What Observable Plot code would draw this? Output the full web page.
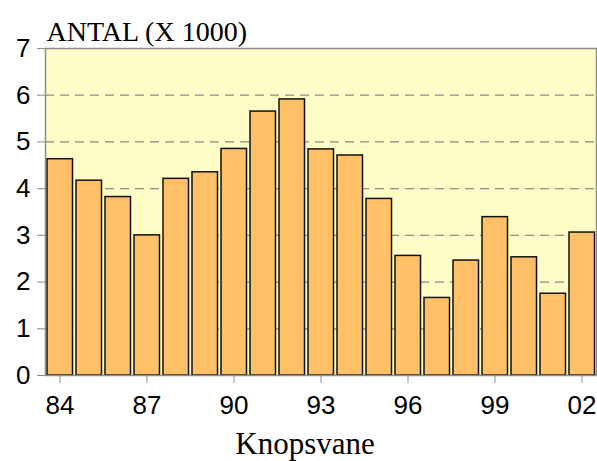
<!DOCTYPE html>
<html>
<head>
<meta charset="utf-8">
<script src="https://cdn.jsdelivr.net/npm/d3@7"></script>
<script src="https://cdn.jsdelivr.net/npm/@observablehq/plot@0.6"></script>
<style>
  html, body { margin: 0; padding: 0; background: #fff; }
</style>
</head>
<body>
<div id="chart"></div>
<script>
const years = ["84","85","86","87","88","89","90","91","92","93","94","95","96","97","98","99","00","01","02"];
const counts = [4.63, 4.17, 3.82, 3.0, 4.21, 4.35, 4.85, 5.65, 5.91, 4.84, 4.71, 3.78, 2.56, 1.66, 2.46, 3.39, 2.53, 1.75, 3.06];
const xTickLabels = ["84","87","90","93","96","99","02"];
const yTicks = [0,1,2,3,4,5,6,7];
const gridValues = [1,2,3,4,5,6];
const title = "ANTAL (X 1000)";
const xLabel = "Knopsvane";

const data = years.map((y, i) => ({year: y, value: counts[i]}));

const chart = Plot.plot({
  width: 597,
  height: 461,
  marginLeft: 45,
  marginRight: 1,
  marginTop: 48,
  marginBottom: 86,
  style: {fontFamily: "'Liberation Sans', Arial, sans-serif", fontSize: "26px", background: "#fff", color: "black"},
  x: {type: "band", domain: years, padding: 0, label: null},
  y: {domain: [0, 7], label: null},
  marks: [
    Plot.frame({fill: "#FFFDC6", stroke: null}),
    Plot.ruleY(gridValues, {stroke: "#8c8c8c", strokeWidth: 1.2, strokeDasharray: "9,6"}),
    Plot.barY(data, {x: "year", y: "value", fill: "#FFC068", stroke: "#111", strokeWidth: 1.5, insetLeft: 2, insetRight: 1.5}),
    Plot.frame({stroke: "#8c8c8c", strokeWidth: 1.5}),
    Plot.axisY(yTicks, {tickSize: 8, color: "#8c8c8c", text: null}),
    Plot.axisY(yTicks, {tickSize: 0, tickPadding: 15, color: "black", fontSize: 26, label: null}),
    Plot.axisX(xTickLabels, {tickSize: 8, color: "#8c8c8c", text: null}),
    Plot.axisX(xTickLabels, {tickSize: 0, tickPadding: 20, color: "black", fontSize: 26, label: null}),
    Plot.text([title], {frameAnchor: "top-left", textAnchor: "start", lineAnchor: "bottom", dx: 1, dy: -8, fontFamily: "'Liberation Serif', 'Times New Roman', serif", fontSize: 28, fill: "black"}),
    Plot.text([xLabel], {frameAnchor: "bottom", textAnchor: "middle", lineAnchor: "bottom", dx: -16, dy: 78, fontFamily: "'Liberation Serif', 'Times New Roman', serif", fontSize: 31, fill: "black"})
  ]
});
document.getElementById("chart").appendChild(chart);
</script>
</body>
</html>
